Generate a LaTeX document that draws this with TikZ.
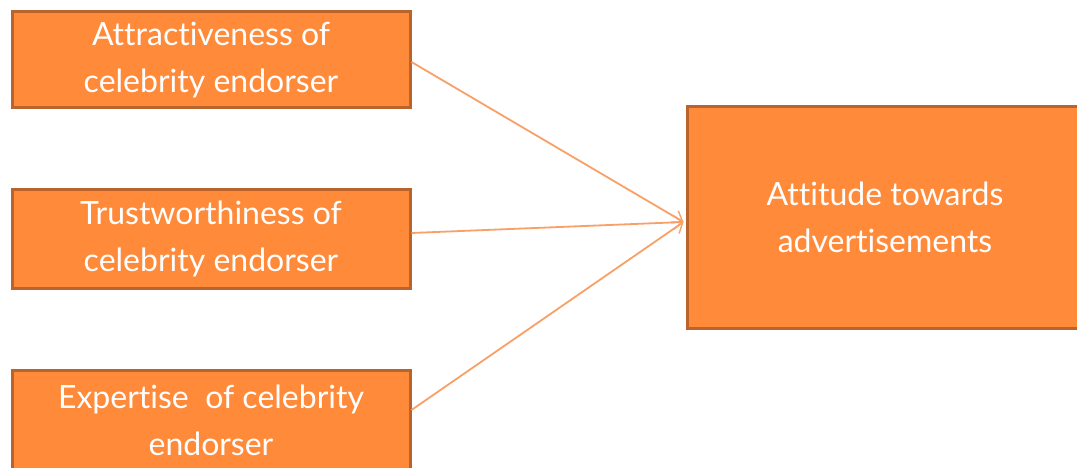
\documentclass[tikz,border=0pt]{standalone}
\usepackage{fontspec}
\setmainfont{Lato}[Ligatures=NoCommon]
\usetikzlibrary{arrows.meta,calc}
\definecolor{boxfill}{HTML}{FF8A3A}
\definecolor{boxedge}{HTML}{B8642C}
\definecolor{arrowc}{HTML}{F9A066}
\tikzset{
  box/.style={draw=boxedge, line width=3pt, fill=boxfill, text=white,
    align=center, inner sep=0pt, font=\fontsize{32}{47}\selectfont},
  link/.style={draw=arrowc, line width=1.8pt, -{Straight Barb[length=9pt,width=14pt,line width=1.4pt]}}
}
\begin{document}
\begin{tikzpicture}[x=1pt,y=-1pt]
\useasboundingbox (0,0) rectangle (1077,468);
\node[box, minimum width=398pt, minimum height=96pt] (b1) at (211,60) {Attractiveness of\\celebrity endorser};
\node[box, minimum width=398pt, minimum height=98pt] (b2) at (211,239) {Trustworthiness of\\celebrity endorser};
\node[box, minimum width=398pt, minimum height=100pt] (b3) at (211,420) {Expertise\ \ of celebrity\\endorser};
\node[box, minimum width=396pt, minimum height=221pt] (b4) at (885,217.5) {Attitude towards\\advertisements};
\coordinate (tip) at ($(b4.west)+(-2,4.5)$);
\draw[link] ($(b1.east)+(0,2)$) -- (tip);
\draw[link] ($(b2.east)+(0,-6)$) -- (tip);
\draw[link] ($(b3.east)+(0,-10)$) -- (tip);
\end{tikzpicture}
\end{document}
